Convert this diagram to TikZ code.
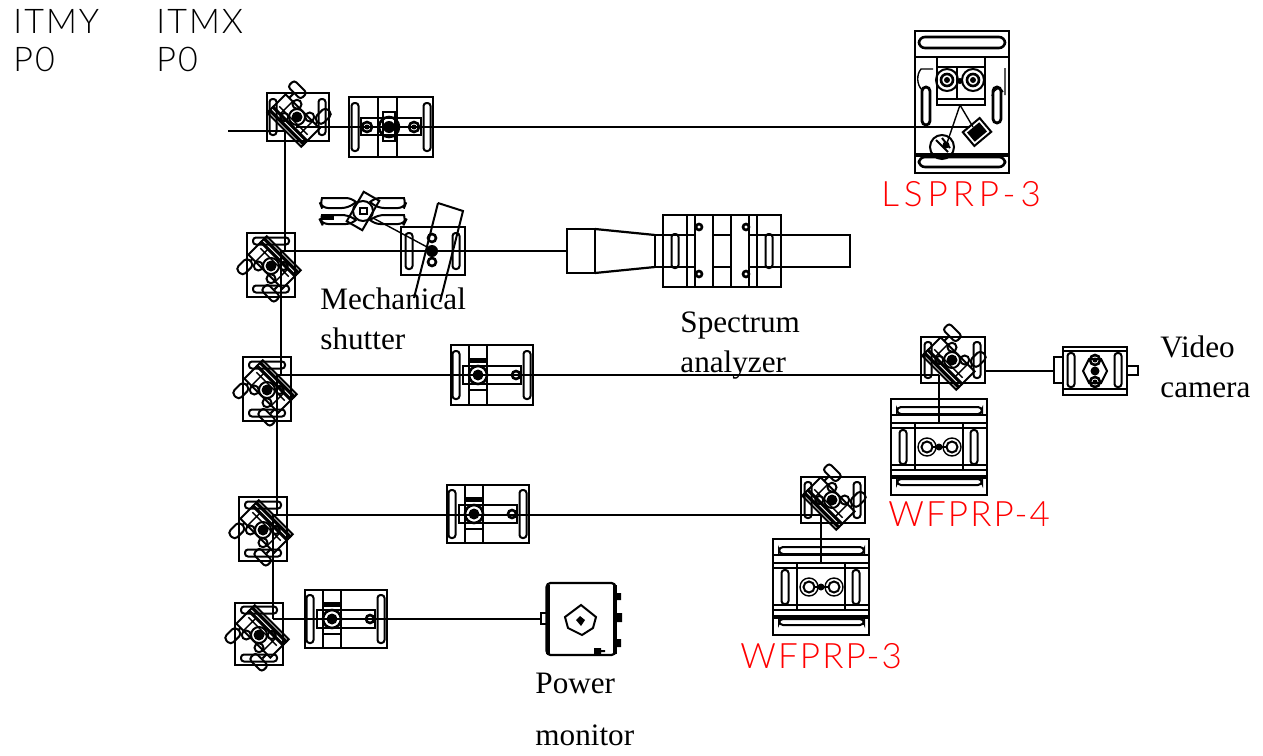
\documentclass[tikz,border=0pt]{standalone}
\usepackage{fontspec}
\setmainfont{Liberation Serif}
\newfontfamily\cadfont[LetterSpace=6]{Lato Light}
\newfontfamily\cadwide[LetterSpace=14]{Lato Light}
\tikzset{
    beam/.style={line width=1.1pt},
    rim/.style={line width=1pt},
    fine/.style={line width=.7pt},
    mount/.style={rectangle, draw, line width=1.1pt, inner sep=0pt},
    note/.style={inner sep=0pt, anchor=north west, align=left, font=\fontsize{15.6}{20}\selectfont},
    cadblack/.style={inner sep=0pt, anchor=north west, align=left, font=\cadfont\fontsize{17}{19}\selectfont},
    cadred/.style={inner sep=0pt, anchor=west, text=red, font=\cadfont\fontsize{17.5}{19}\selectfont},
    slotv/.pic={\draw[rim,rounded corners=1.5pt] (-3.5,-#1) rectangle (3.5,#1);},
    sloth/.pic={\draw[rim,rounded corners=1.5pt] (-#1,-3.5) rectangle (#1,3.5);},
    mirrorhead/.pic={
        \draw[rim] (-24,-8) rectangle (24,18);
        \draw[line width=1.6pt] (-25,10) -- (25,10) (-25,14.5) -- (25,14.5);
        \draw[fine] (-14,-8) -- (-14,10) (14,-8) -- (14,10) (-20,5) -- (20,5);
        \fill (0,0) circle (5.5);
        \draw[rim] (0,0) circle (8);
        \draw[rim] (-9,-9) circle (4.5) (9,-9) circle (4.5) (-9,9) circle (4);
        \draw[rim] (-19,-14) -- (-19,-8) (18,-12) -- (18,-8);
        \draw[rim,rounded corners=1.5pt] (-28,-24) rectangle (-10,-15);
        \draw[rim,rounded corners=2pt] (13,-27) rectangle (23,-11);
    },
    lensmount/.pic={
        \draw[rim] (-23,-29) -- (-23,29) (-5,-29) -- (-5,29);
        \pic at (-36,0) {slotv=24};
        \pic at (35,0) {slotv=24};
        \draw[rim] (-29,-9) rectangle (29,9);
        \draw[rim] (-23,-16) rectangle (-5,15);
        \draw[line width=2.5pt] (-23,-15) -- (-5,-15);
        \draw[line width=1.3pt] (-14,0) circle (9);
        \fill (-14,0) circle (5.5);
        \draw[line width=1.3pt] (24,0) circle (4);
    },
    prpmount/.pic={
        \draw[rim] (-48,-32) -- (48,-32) (-48,-24) -- (48,-24) (-48,-19) -- (48,-19);
        \draw[rim] (-48,18) -- (48,18) (-48,23) -- (48,23);
        \draw[line width=1.6pt] (-48,30) -- (48,30);
        \draw[rim,rounded corners=2pt] (-42,-40) rectangle (43,-33);
        \draw[rim,rounded corners=2pt] (-42,32) rectangle (43,38);
        \draw[rim] (-24,-24) -- (-24,23) (24,-24) -- (24,23);
        \pic at (-36,0) {slotv=17};
        \pic at (35,0) {slotv=17};
        \draw[fine] (-12,0) circle (9) (13,0) circle (9);
        \draw[rim] (-12,0) circle (5.5) (13,0) circle (5.5);
        \fill (0,0) circle (3.5);
        \draw[rim] (-7,0) -- (8,0);
    },
}
\begin{document}
\begin{tikzpicture}[x=.5pt,y=-.5pt]
    \useasboundingbox (0,0) rectangle (1263,755);

    \node[mount,minimum width=31pt,minimum height=24pt] (m1) at (298,117) {};
    \node[mount,minimum width=24pt,minimum height=32pt] (m2) at (271,265) {};
    \node[mount,minimum width=24pt,minimum height=32pt] (m3) at (267,389) {};
    \node[mount,minimum width=24pt,minimum height=32pt] (m4) at (263,529) {};
    \node[mount,minimum width=24pt,minimum height=31pt] (m5) at (259,634) {};
    \node[mount,minimum width=32pt,minimum height=23pt] (m6) at (953,360) {};
    \node[mount,minimum width=32pt,minimum height=23pt] (m7) at (833,500) {};

    \foreach \name/\x/\y in {m1/298/117,m6/953/360,m7/833/500} {
        \pic at (\x-25,\y) {slotv=18};
        \pic at (\x+24,\y) {slotv=18};
        \pic[rotate=-45] at (\x-1,\y) {mirrorhead};
    }
    \foreach \name/\x/\y in {m2/271/265,m3/267/389,m4/263/529,m5/259/634} {
        \pic at (\x,\y-24) {sloth=18};
        \pic at (\x,\y+24) {sloth=18};
        \pic[rotate=135] at (\x,\y+1) {mirrorhead};
    }

    \node[mount,minimum width=42pt,minimum height=30pt] (l1) at (391,127) {};
    \node[mount,minimum width=41pt,minimum height=30pt] (l3) at (492,375) {};
    \node[mount,minimum width=41pt,minimum height=29pt] (l4) at (488,514) {};
    \node[mount,minimum width=41pt,minimum height=29pt] (l5) at (346,619) {};
    \pic at (492,375) {lensmount};
    \pic at (488,514) {lensmount};
    \pic at (346,619) {lensmount};
    \draw[fine] (378,97) -- (378,157) (397,97) -- (397,157);
    \pic at (355,127) {slotv=24};
    \pic at (427,127) {slotv=24};
    \draw[rim] (361,118) rectangle (421,135);
    \draw[rim] (383,112) rectangle (395,141);
    \draw[line width=1.3pt] (389,127) circle (10) (367,127) circle (5) (414,127) circle (5);
    \fill (389,127) circle (6);
    \fill (367,127) circle (2.5) (414,127) circle (2.5);

    \node[mount,minimum width=32pt,minimum height=24pt] (s1) at (433,251) {};
    \pic at (409,251) {slotv=18};
    \pic at (456,251) {slotv=18};
    \draw[line width=1.3pt] (432,238) circle (4) (432,262) circle (4);
    \fill (432,251) circle (6);
    \draw[rim] (438,203) -- (463,211) -- (440,302) (414,298) -- (438,203);
    \draw[rim,rounded corners=3pt] (322,198) -- (352,198) -- (356,202) (322,198) -- (320,203) -- (322,208) -- (348,208) -- (356,202);
    \draw[rim,rounded corners=3pt] (322,215) -- (348,215) -- (356,220) (322,215) -- (320,220) -- (322,224) -- (352,224) -- (356,220);
    \draw[rim,rounded corners=3pt] (404,198) -- (374,198) -- (370,202) (404,198) -- (406,203) -- (404,208) -- (378,208) -- (370,202);
    \draw[rim,rounded corners=3pt] (404,215) -- (378,215) -- (370,220) (404,215) -- (406,220) -- (404,224) -- (374,224) -- (370,220);
    \draw[rim,rotate around={-30:(363,211)}] (354,194) rectangle (372,228);
    \draw[rim] (363,211) circle (10);
    \draw[line width=1.3pt] (360,208) rectangle (367,214);
    \fill (322,216) rectangle (334,220);
    \draw[fine] (373,218) -- (427,247);

    \node[mount,minimum width=59pt,minimum height=36pt] (sa) at (722,251) {};
    \draw[beam] (567,229) rectangle (595,273);
    \draw[beam] (595,229) -- (655,235) (595,273) -- (655,267);
    \draw[beam] (655,235) -- (655,267);
    \draw[beam] (655,235) -- (695,235) (713,235) -- (731,235) (749,235) -- (850,235) -- (850,267) -- (749,267) (731,267) -- (713,267) (695,267) -- (655,267);
    \foreach \x in {687,695,713,731,749,757} {
        \draw[rim] (\x,215) -- (\x,287);
    }
    \pic at (675,251) {slotv=17};
    \pic at (769,251) {slotv=17};
    \foreach \x/\y in {699/227,699/274,746/227,746/274} {
        \draw[line width=1.3pt] (\x,\y) circle (3);
    }

    \node[mount,minimum width=47pt,minimum height=71pt] (lsprp) at (962,102) {};
    \draw[rim] (915,57) -- (1009,57);
    \draw[line width=1.8pt] (915,155) -- (1009,155);
    \draw[line width=1.3pt,rounded corners=3pt] (919,37) rectangle (1005,48);
    \draw[line width=1.3pt,rounded corners=3pt] (919,157) rectangle (1005,167);
    \draw[rim] (937,57) rectangle (985,105);
    \draw[rim] (937,67) -- (985,67) (937,99) -- (985,99);
    \draw[rim] (957,67) -- (957,99);
    \draw[line width=1.4pt,rounded corners=2pt] (922,87) rectangle (930,125);
    \draw[line width=1.4pt,rounded corners=2pt] (993,87) rectangle (1001,123);
    \draw[fine] (933,69) -- (921,69) .. controls (916,75) and (917,85) .. (922,90);
    \draw[fine] (1005,68) -- (1005,95) (992,96) .. controls (994,88) and (1000,86) .. (1003,92);
    \draw[rim] (947,80) circle (11) (973,80) circle (11);
    \draw[line width=1.3pt] (947,80) circle (6) (973,80) circle (6);
    \fill (947,80) circle (3) (973,80) circle (3);
    \fill (960,81) circle (3);
    \draw[fine] (960,105) -- (947,143) (960,105) -- (973,127);
    \draw[rim,rotate around={40:(977,132)}] (966,123) rectangle (988,141);
    \fill[rotate around={40:(977,132)}] (969,126) rectangle (985,138);
    \draw[rim] (942,147) circle (12);
    \draw[rim] (936,140) -- (948,152) (942,138) -- (950,148);
    \fill (946,145) circle (3.5);

    \node[mount,minimum width=48pt,minimum height=48pt] (wf4) at (939,447) {};
    \node[mount,minimum width=48pt,minimum height=48pt] (wf3) at (821,587) {};
    \pic at (939,447) {prpmount};
    \pic at (821,587) {prpmount};

    \node[mount,minimum width=32pt,minimum height=24pt] (vc) at (1095,371) {};
    \draw[rim] (1063,351) -- (1127,351) (1063,389) -- (1127,389);
    \pic at (1071,370) {slotv=17};
    \pic at (1118,370) {slotv=17};
    \draw[rim] (1083,371) -- (1089,359) -- (1101,359) -- (1107,371) -- (1101,383) -- (1089,383) -- cycle;
    \draw[line width=1.3pt] (1095,360) circle (5) (1095,382) circle (5);
    \fill (1095,371) circle (4.5) (1095,360) circle (2.5) (1095,382) circle (2.5);
    \draw[rim] (1063,357) -- (1054,357) -- (1054,383) -- (1063,383);
    \draw[rim] (1127,366) -- (1138,366) -- (1138,375) -- (1127,375);

    \node[mount,rounded corners=2pt,minimum width=34.5pt,minimum height=36pt] (pm) at (581,619) {};
    \draw[line width=1.8pt] (548,585) -- (548,654) (615,585) -- (615,654);
    \draw[rim] (547,613) -- (541,613) -- (541,624) -- (547,624);
    \draw[rim] (581,605) -- (596,617) -- (593,628) -- (582,635) -- (568,628) -- (565,617) -- cycle;
    \fill (580,616) -- (585,620) -- (581,626) -- (576,620) -- cycle;
    \fill (616,593) rectangle (621,600) (616,613) rectangle (622,622) (616,639) rectangle (621,647);
    \fill (594,648) rectangle (601,654) (601,650) rectangle (605,652);

    \coordinate (a0) at (228,131);
    \coordinate (a1) at (285,131);
    \coordinate (a2) at (296,127);
    \coordinate (a3) at (970,127);
    \coordinate (b1) at (285,251);
    \coordinate (b2) at (566,251);
    \coordinate (c0) at (281,251);
    \coordinate (c1) at (281,375);
    \coordinate (c2) at (939,375);
    \coordinate (c3) at (939,422);
    \coordinate (c4) at (985,371);
    \coordinate (c5) at (1054,371);
    \coordinate (d0) at (277,375);
    \coordinate (d1) at (277,515);
    \coordinate (d2) at (821,515);
    \coordinate (d3) at (821,563);
    \coordinate (e0) at (273,515);
    \coordinate (e1) at (273,619);
    \coordinate (e2) at (541,619);
    \draw[beam] (a0) -- (a1);
    \draw[beam] (a2 |- a3) -- (a3);
    \draw[beam] (a1) -- (b1);
    \draw[beam] (c0) -- (b2);
    \draw[beam] (c0) -- (c1);
    \draw[beam] (d0) -- (c2);
    \draw[beam] (c2) -- (c3);
    \draw[beam] (c4) -- (c5);
    \draw[beam] (d0) -- (d1);
    \draw[beam] (e0) -- (d2);
    \draw[beam] (d2) -- (d3);
    \draw[beam] (e0) -- (e1);
    \draw[beam] (e1) -- (e2);

    \node[cadblack] (t1) at (13,9) {ITMY\\P0};
    \node[cadblack] (t2) at (156,9) {ITMX\\P0};
    \node[cadred,font=\cadwide\fontsize{17.5}{19}\selectfont] (t3) at (881,194) {LSPRP-3};
    \node[cadred] (t4) at (888,514) {WFPRP-4};
    \node[cadred] (t5) at (740,656) {WFPRP-3};
    \node[note] (t6) at (320,287) {Mechanical\\shutter};
    \node[note] (t7) at (680,311) {Spectrum\\analyzer};
    \node[note] (t8) at (1160,335) {Video\\camera};
    \node[note,font=\fontsize{15.6}{26}\selectfont] (t9) at (535,673) {Power\\monitor};
\end{tikzpicture}
\end{document}
